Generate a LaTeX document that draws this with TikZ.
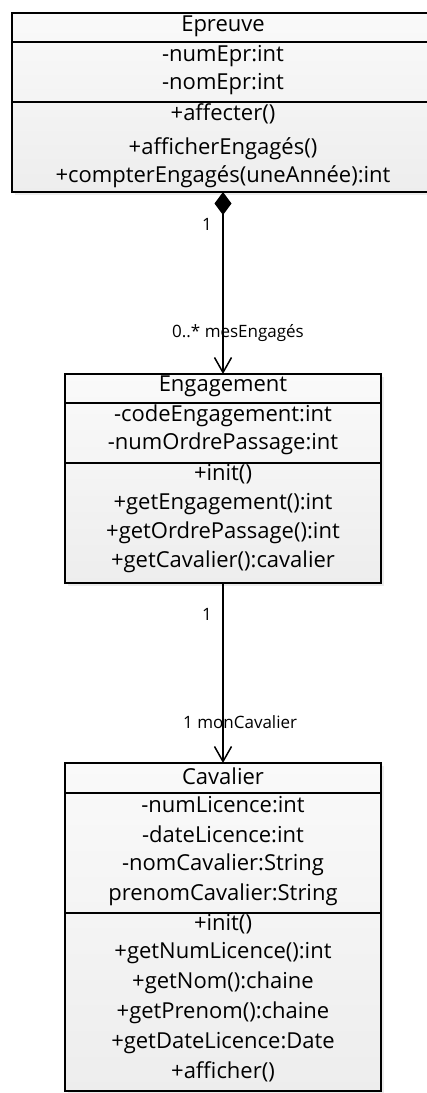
\documentclass[tikz,border=0pt]{standalone}
\usepackage{fontspec}
\setmainfont{Open Sans}
\usetikzlibrary{arrows.meta,shadows}

\begin{document}
\begin{tikzpicture}[x=1pt,y=-1pt]
	\tikzstyle{classbox}=[draw=black,line width=1.5pt,top color=gray!4,bottom color=gray!14,drop shadow={shadow xshift=3pt,shadow yshift=-3pt,opacity=0.15},anchor=north west,inner sep=0pt,outer sep=0pt]
	\tikzstyle{member}=[font=\fontsize{22}{24}\selectfont,inner sep=0pt]
	\tikzstyle{role}=[font=\fontsize{17}{20}\selectfont,inner sep=0pt]
	\tikzstyle{sep}=[line width=1.5pt]
	\useasboundingbox (0,0) rectangle (427,1093);
	% class boxes
	\node[classbox,minimum width=422pt,minimum height=179pt] (epr) at (12,13) {};
	\node[classbox,minimum width=316pt,minimum height=209pt] (eng) at (65,374) {};
	\node[classbox,minimum width=316pt,minimum height=328pt] (cav) at (65,763) {};
	\draw[sep] (12,42) -- (434,42);
	\draw[sep] (12,102) -- (434,102);
	\draw[sep] (65,403) -- (381,403);
	\draw[sep] (65,463) -- (381,463);
	\draw[sep] (65,793) -- (381,793);
	\draw[sep] (65,913) -- (381,913);
	% Epreuve
	\node[member] (epr0) at (223,26) {Epreuve};
	\node[member] (epr1) at (223,56) {-numEpr:int};
	\node[member] (epr2) at (223,84) {-nomEpr:int};
	\node[member] (epr3) at (223,114) {+affecter()};
	\node[member] (epr4) at (223,149) {+afficherEngagés()};
	\node[member] (epr5) at (223,177) {+compterEngagés(uneAnnée):int};
	% Engagement
	\node[member] (eng0) at (223,386) {Engagement};
	\node[member] (eng1) at (223,416) {-codeEngagement:int};
	\node[member] (eng2) at (223,444) {-numOrdrePassage:int};
	\node[member] (eng3) at (223,474) {+init()};
	\node[member] (eng4) at (223,504) {+getEngagement():int};
	\node[member] (eng5) at (223,533) {+getOrdrePassage():int};
	\node[member] (eng6) at (223,562) {+getCavalier():cavalier};
	% Cavalier
	\node[member] (cav0) at (223,776) {Cavalier};
	\node[member] (cav1) at (223,805) {-numLicence:int};
	\node[member] (cav2) at (223,834) {-dateLicence:int};
	\node[member] (cav3) at (223,865) {-nomCavalier:String};
	\node[member] (cav4) at (223,895) {prenomCavalier:String};
	\node[member] (cav5) at (223,924) {+init()};
	\node[member] (cav6) at (223,953) {+getNumLicence():int};
	\node[member] (cav7) at (223,983) {+getNom():chaine};
	\node[member] (cav8) at (223,1013) {+getPrenom():chaine};
	\node[member] (cav9) at (223,1043) {+getDateLicence:Date};
	\node[member] (cav10) at (223,1072) {+afficher()};
	% associations
	\draw[line width=1.5pt,{Diamond[length=23pt,width=17pt]}-{Straight Barb[length=15pt,width=17pt]}] (epr.south) -- (eng.north);
	\draw[line width=1.5pt,-{Straight Barb[length=15pt,width=17pt]}] (eng.south) -- (cav.north);
	\node[role] (m1) at (207,224) {1};
	\node[role,anchor=west] (m2) at (172,333) {0..* mesEngagés};
	\node[role] (m3) at (207,614) {1};
	\node[role,anchor=west] (m4) at (183,722) {1 monCavalier};
\end{tikzpicture}
\end{document}
